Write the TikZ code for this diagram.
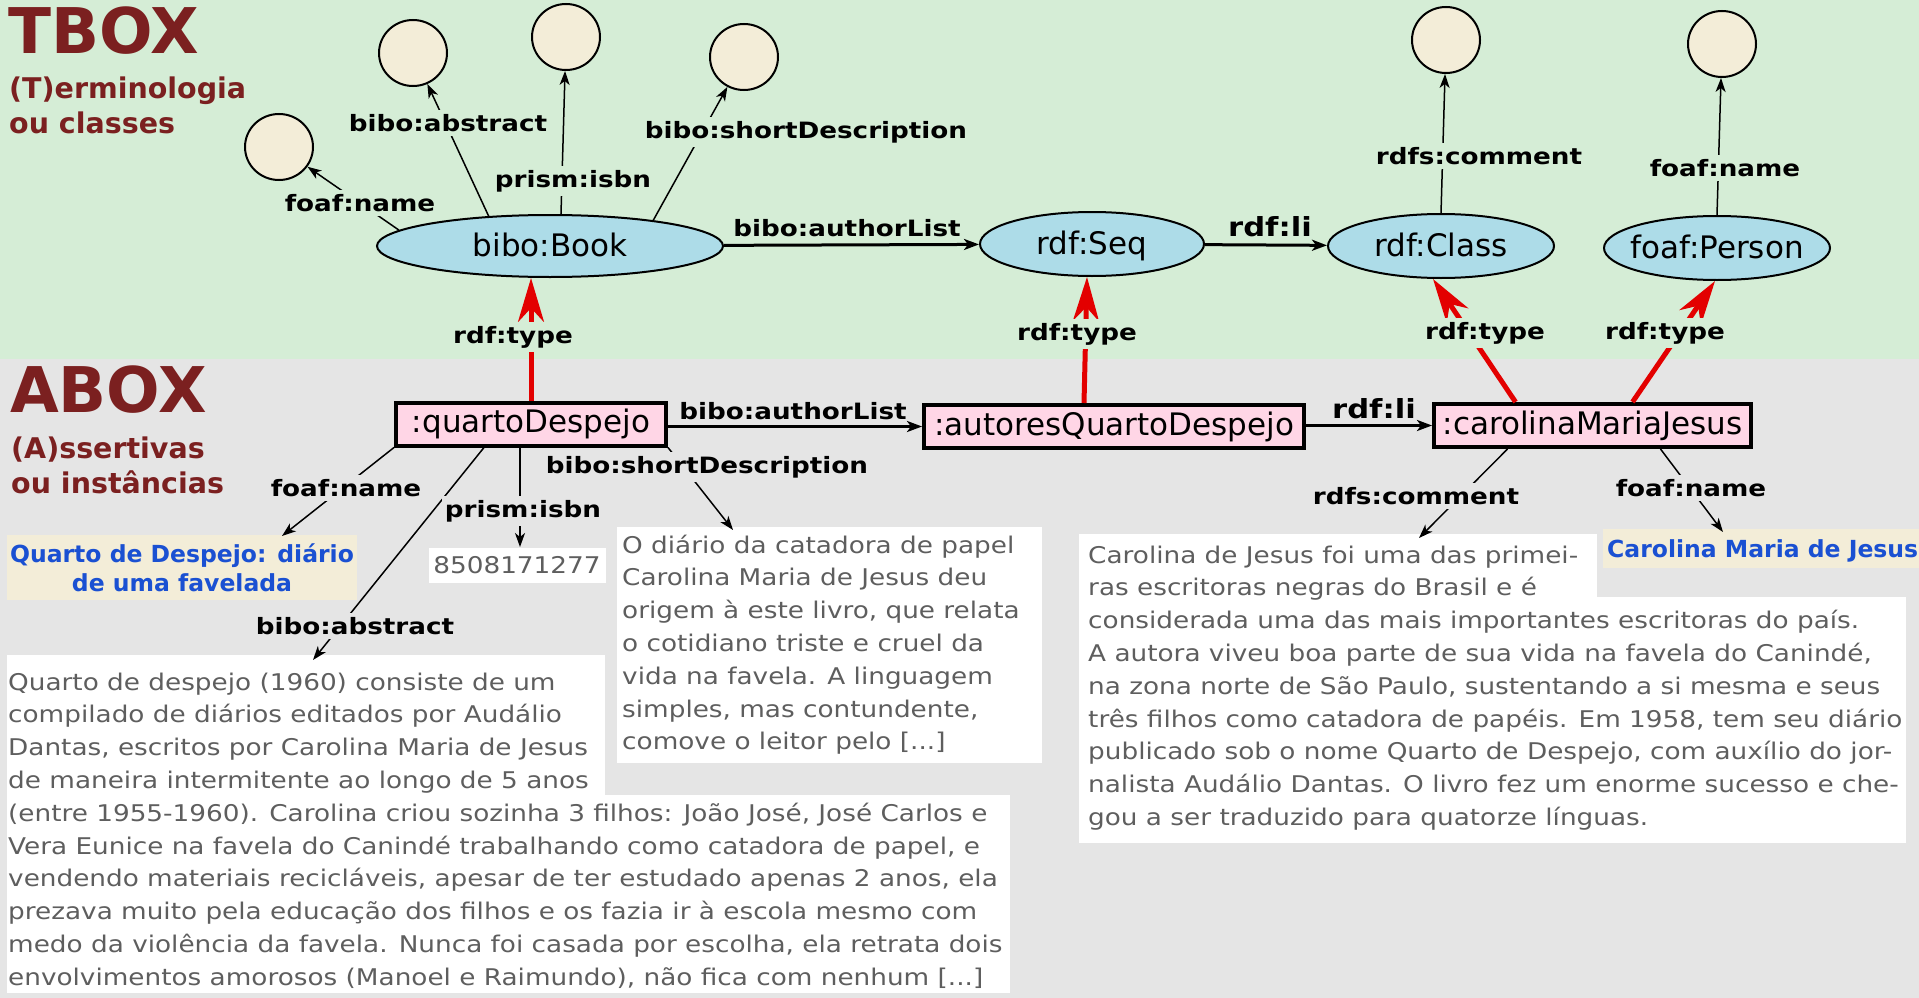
\documentclass[tikz,border=0pt]{standalone}
\usepackage{fontspec}
\setmainfont{DejaVu Sans}
\newfontfamily\lblfont{DejaVu Sans}[FakeStretch=1.165]
\newfontfamily\txtfont{DejaVu Sans}[FakeStretch=1.143]
\usetikzlibrary{arrows.meta,shapes.geometric}
\definecolor{tboxbg}{HTML}{D5EDD6}
\definecolor{aboxbg}{HTML}{E5E5E5}
\definecolor{titlered}{HTML}{7B2020}
\definecolor{clsblue}{HTML}{ADDCE8}
\definecolor{litbeige}{HTML}{F3EDD8}
\definecolor{instpink}{HTML}{FFD6E6}
\definecolor{bluetext}{HTML}{1A50D2}
\definecolor{greytext}{HTML}{5E5E5E}
\definecolor{typered}{HTML}{E30000}
\newcommand{\zw}[1]{\makebox[0pt]{#1}}
\begin{document}
\begin{tikzpicture}[x=1pt,y=-1pt,
  circ/.style={ellipse, draw, line width=2pt, fill=litbeige, minimum width=68pt, minimum height=66pt, inner sep=0pt},
  clsn/.style={ellipse, draw, line width=2pt, fill=clsblue, inner sep=0pt, text height=23pt, text depth=3pt, font=\fontsize{31}{36}\selectfont},
  inst/.style={rectangle, draw, line width=4pt, fill=instpink, inner sep=0pt, minimum height=43pt, font=\fontsize{31}{36}\selectfont},
  lbl/.style={font=\lblfont\bfseries\fontsize{22.5}{27}\selectfont, inner xsep=3pt, inner ysep=4pt},
  biglbl/.style={font=\lblfont\bfseries\fontsize{26.3}{30}\selectfont, inner sep=3pt},
  thinarr/.style={line width=1.5pt, -{Stealth[length=14pt,width=10pt,inset=4pt]}},
  thickarr/.style={line width=3pt, -{Stealth[length=15pt,width=11pt,inset=4pt]}},
  redarr/.style={line width=5pt, draw=typered, -{Stealth[length=44pt,width=26pt,inset=14pt]}},
  para/.style={anchor=base west, align=left, inner sep=0pt, text=greytext, font=\txtfont\fontsize{23}{32.8}\selectfont},
  ttl/.style={anchor=base west, inner sep=0pt, text=titlered, font=\bfseries\fontsize{63}{63}\selectfont},
  subttl/.style={anchor=base west, inner sep=0pt, align=left, text=titlered, font=\bfseries\fontsize{28.5}{35}\selectfont},
  bluet/.style={text=bluetext, font=\bfseries\fontsize{23.5}{29}\selectfont}
]
\useasboundingbox (0,0) rectangle (1919,998);
% backgrounds
\fill[tboxbg] (0,0) rectangle (1919,359);
\fill[aboxbg] (0,359) rectangle (1919,998);

% titles (base anchor of a multi-line node = baseline of its last line)
\node[ttl] (tbox) at (8,53) {TBOX};
\node[subttl] (tboxsub) at (9,133) {(T)erminologia\\ou classes};
\node[ttl] (abox) at (10,412) {ABOX};
\node[subttl] (aboxsub) at (11,493) {(A)ssertivas\\ou instâncias};

% literal circles
\node[circ] (c1) at (279,147) {};
\node[circ] (c2) at (413,53) {};
\node[circ] (c3) at (566,37) {};
\node[circ] (c4) at (744,57) {};
\node[circ] (c5) at (1446,40) {};
\node[circ] (c6) at (1722,44) {};

% classes
\node[clsn, minimum width=346pt, minimum height=62pt] (book) at (550,246) {\zw{bibo:Book}};
\node[clsn, minimum width=224pt, minimum height=64pt] (seq) at (1092,244) {\zw{rdf:Seq}};
\node[clsn, minimum width=226pt, minimum height=64pt] (cls) at (1441,246) {\zw{rdf:Class}};
\node[clsn, minimum width=226pt, minimum height=64pt] (person) at (1717,248) {\zw{foaf:Person}};

% instances
\node[inst, minimum width=270pt] (qd) at (531,424) {:quartoDespejo};
\node[inst, minimum width=380pt] (aqd) at (1114,426.5) {:autoresQuartoDespejo};
\node[inst, minimum width=317pt] (cmj) at (1592.5,425.5) {:carolinaMariaJesus};

% literal boxes
\node[fill=litbeige, minimum width=350pt, minimum height=65pt, inner sep=0pt, align=center, bluet] (t1) at (182,567.5) {Quarto de Despejo: diário\\de uma favelada};
\node[fill=litbeige, minimum width=316pt, minimum height=39pt, inner sep=0pt] (t2box) at (1761,548) {};
\node[anchor=base west, inner sep=0pt, bluet] (t2) at (1607,557) {Carolina Maria de Jesus};
\node[fill=white, minimum width=177pt, minimum height=35pt, inner sep=0pt, text=greytext, font=\txtfont\fontsize{23}{28}\selectfont] (isbn) at (517,565) {8508171277};

\fill[white] (7,655) rectangle (605,797);
\fill[white] (7,795) rectangle (1010,993);
\node[para] (abstxt) at (8,985.2) {Quarto de despejo (1960) consiste de um\\
compilado de diários editados por Audálio\\
Dantas, escritos por Carolina Maria de Jesus\\
de maneira intermitente ao longo de 5 anos\\
(entre 1955-1960). Carolina criou sozinha 3 filhos: João José, José Carlos e\\
Vera Eunice na favela do Canindé trabalhando como catadora de papel, e\\
vendendo materiais recicláveis, apesar de ter estudado apenas 2 anos, ela\\
prezava muito pela educação dos filhos e os fazia ir à escola mesmo com\\
medo da violência da favela. Nunca foi casada por escolha, ela retrata dois\\
envolvimentos amorosos (Manoel e Raimundo), não fica com nenhum [...]};

\fill[white] (617,527) rectangle (1042,763);
\node[para] (sdtxt) at (622,749.8) {O diário da catadora de papel\\
Carolina Maria de Jesus deu\\
origem à este livro, que relata\\
o cotidiano triste e cruel da\\
vida na favela. A linguagem\\
simples, mas contundente,\\
comove o leitor pelo [...]};

\fill[white] (1079,534) rectangle (1597,600);
\fill[white] (1079,597) rectangle (1906,843);
\node[para] (cmtxt) at (1088,825.4) {Carolina de Jesus foi uma das primei-\\
ras escritoras negras do Brasil e é\\
considerada uma das mais importantes escritoras do país.\\
A autora viveu boa parte de sua vida na favela do Canindé,\\
na zona norte de São Paulo, sustentando a si mesma e seus\\
três filhos como catadora de papéis. Em 1958, tem seu diário\\
publicado sob o nome Quarto de Despejo, com auxílio do jor-\\
nalista Audálio Dantas. O livro fez um enorme sucesso e che-\\
gou a ser traduzido para quatorze línguas.};

% arrow end points on the literal boxes
\coordinate (t1in) at (282,536);
\coordinate (isbnin) at (520,547);
\coordinate (absin) at (313,660);
\coordinate (sdin) at (733,530);
\coordinate (cmin) at (1419,538);
\coordinate (cnin) at (1723,532);

% TBOX edges
\draw[thinarr] (book.174) -- (c1);
\draw[thinarr] (book.154) -- (c2);
\draw[thinarr] (book.71) -- (c3);
\draw[thinarr] (book.14) -- (c4);
\draw[thickarr] (book) -- (seq);
\draw[thickarr] (seq) -- (cls);
\draw[thinarr] (cls.north) -- (c5);
\draw[thinarr] (person.north) -- (c6);

% ABOX edges
\draw[thinarr] (qd.south west) -- (t1in);
\draw[thinarr] ([xshift=-11pt]qd.south) -- (isbnin);
\draw[thinarr] ([xshift=-47pt]qd.south) -- (absin);
\draw[thinarr] (qd.south east) -- (sdin);
\draw[thickarr] (qd.east |- aqd.west) -- (aqd.west);
\draw[thickarr] (aqd.east |- cmj.west) -- (cmj.west);
\draw[thinarr] ([xshift=-85pt]cmj.south) -- (cmin);
\draw[thinarr] ([xshift=68pt]cmj.south) -- (cnin);

% rdf:type edges
\draw[redarr] (qd.north) -- ([xshift=-19pt]book.south);
\draw[redarr] ([xshift=-30pt]aqd.north) -- ([xshift=-5pt]seq.south);
\draw[redarr] ([xshift=-77pt]cmj.north) -- ([xshift=-8pt]cls.south);
\draw[redarr] ([xshift=40pt]cmj.north) -- ([xshift=-2pt]person.south);

% TBOX labels
\node[lbl, fill=tboxbg] (l1) at (360,203) {foaf:name};
\node[lbl, fill=tboxbg] (l2) at (448,123) {bibo:abstract};
\node[lbl, fill=tboxbg] (l3) at (573,181) {prism:isbn};
\node[lbl, fill=tboxbg] (l4) at (806,132) {bibo:shortDescription};
\node[lbl] (l5) at (847,228) {bibo:authorList};
\node[biglbl] (l6) at (1270,227) {rdf:li};
\node[lbl, fill=tboxbg] (l7) at (1479,156) {rdfs:comment};
\node[lbl, fill=tboxbg] (l8) at (1725,168) {foaf:name};
\node[lbl, fill=tboxbg] (r1) at (513,337) {rdf:type};
\node[lbl, fill=tboxbg] (r2) at (1077,334) {rdf:type};
\node[lbl, fill=tboxbg] (r3) at (1485,333) {rdf:type};
\node[lbl, fill=tboxbg] (r4) at (1665,333) {rdf:type};

% ABOX labels
\node[lbl, fill=aboxbg] (m1) at (346,488) {foaf:name};
\node[lbl, fill=aboxbg] (m2) at (523,511) {prism:isbn};
\node[lbl, fill=aboxbg] (m3) at (355,626) {bibo:abstract};
\node[lbl, fill=aboxbg] (m4) at (707,467) {bibo:shortDescription};
\node[lbl] (m5) at (793,411) {bibo:authorList};
\node[biglbl] (m6) at (1374,409) {rdf:li};
\node[lbl, fill=aboxbg] (m7) at (1416,496) {rdfs:comment};
\node[lbl, fill=aboxbg] (m8) at (1691,488) {foaf:name};
\end{tikzpicture}
\end{document}
